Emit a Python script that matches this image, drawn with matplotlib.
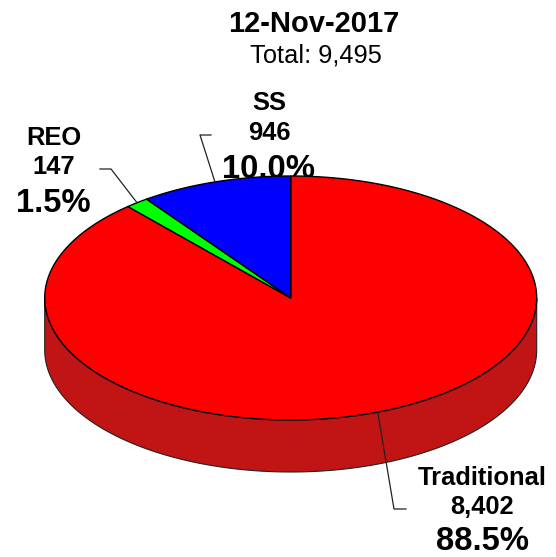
import numpy as np
import matplotlib
matplotlib.use("Agg")
import matplotlib.pyplot as plt
from matplotlib.patches import Polygon

# chart values
labels = ["Traditional", "REO", "SS"]
values = [8402, 147, 946]
value_labels = ["8,402", "147", "946"]
percent_labels = ["88.5%", "1.5%", "10.0%"]
colors = ["#FF0000", "#00FF00", "#0000FF"]
title = "12-Nov-2017"
subtitle = "Total: 9,495"

plt.rcParams["font.family"] = ["Liberation Sans", "DejaVu Sans"]

# pie shape in pixels
cx, cy = 290.7, 298
rx, ry = 246, 122
depth = 52
side_color = "#C11414"

# where each label block goes: (x, name baseline, value baseline, percent baseline)
label_pos = [(482.5, 485, 514, 550), (53.7, 145, 174, 212), (269, 110, 140, 178)]
# leader line bends: elbow then end
leader_pos = [((394, 509), (406, 509)), ((111, 169), (100, 169)), ((200, 135), (211, 135))]


def ellipse_points(a, b):
    # angles in degrees clockwise from the top of the pie
    t = np.radians(np.linspace(a, b, 200))
    return np.column_stack([cx + rx * np.sin(t), cy - ry * np.cos(t)])


fig = plt.figure(figsize=(5.56, 5.57), dpi=100)
ax = fig.add_axes([0, 0, 1, 1])
ax.set_xlim(0, 556)
ax.set_ylim(557, 0)
ax.axis("off")

# titles
ax.text(314, 32, title, ha="center", va="baseline", fontsize=21, fontweight="bold")
ax.text(316, 62, subtitle, ha="center", va="baseline", fontsize=18.3)

# rim of the pie, only the front half shows
front = ellipse_points(90, 270)
back = front[::-1] + [0, depth]
ax.add_patch(Polygon(np.vstack([front, back]), closed=True, facecolor=side_color,
                     edgecolor="#222222", linewidth=0.8, zorder=3))

# top slices, clockwise from 12 o'clock
total = sum(values)
start = 0
for i in range(len(values)):
    sweep = 360 * values[i] / total
    end = start + sweep
    pts = np.vstack([[cx, cy], ellipse_points(start, end)])
    ax.add_patch(Polygon(pts, closed=True, facecolor=colors[i], edgecolor="black",
                         linewidth=1.0, zorder=4))

    # leader line starts on the middle of the slice edge
    mid = np.radians(start + sweep / 2)
    x0 = cx + rx * np.sin(mid)
    y0 = cy - ry * np.cos(mid)
    elbow, tip = leader_pos[i]
    ax.plot([x0, elbow[0], tip[0]], [y0, elbow[1], tip[1]], color="#222222",
            linewidth=0.9, zorder=5)

    # labels sit under the pie, the SS percent gets cut off by it
    x, y1, y2, y3 = label_pos[i]
    ax.text(x, y1, labels[i], ha="center", va="baseline", fontsize=18.4, fontweight="bold", zorder=2)
    ax.text(x, y2, value_labels[i], ha="center", va="baseline", fontsize=18.4, fontweight="bold", zorder=2)
    ax.text(x, y3, percent_labels[i], ha="center", va="baseline", fontsize=23.6, fontweight="bold", zorder=2)

    start = end

fig.savefig("out.png", dpi=100)
